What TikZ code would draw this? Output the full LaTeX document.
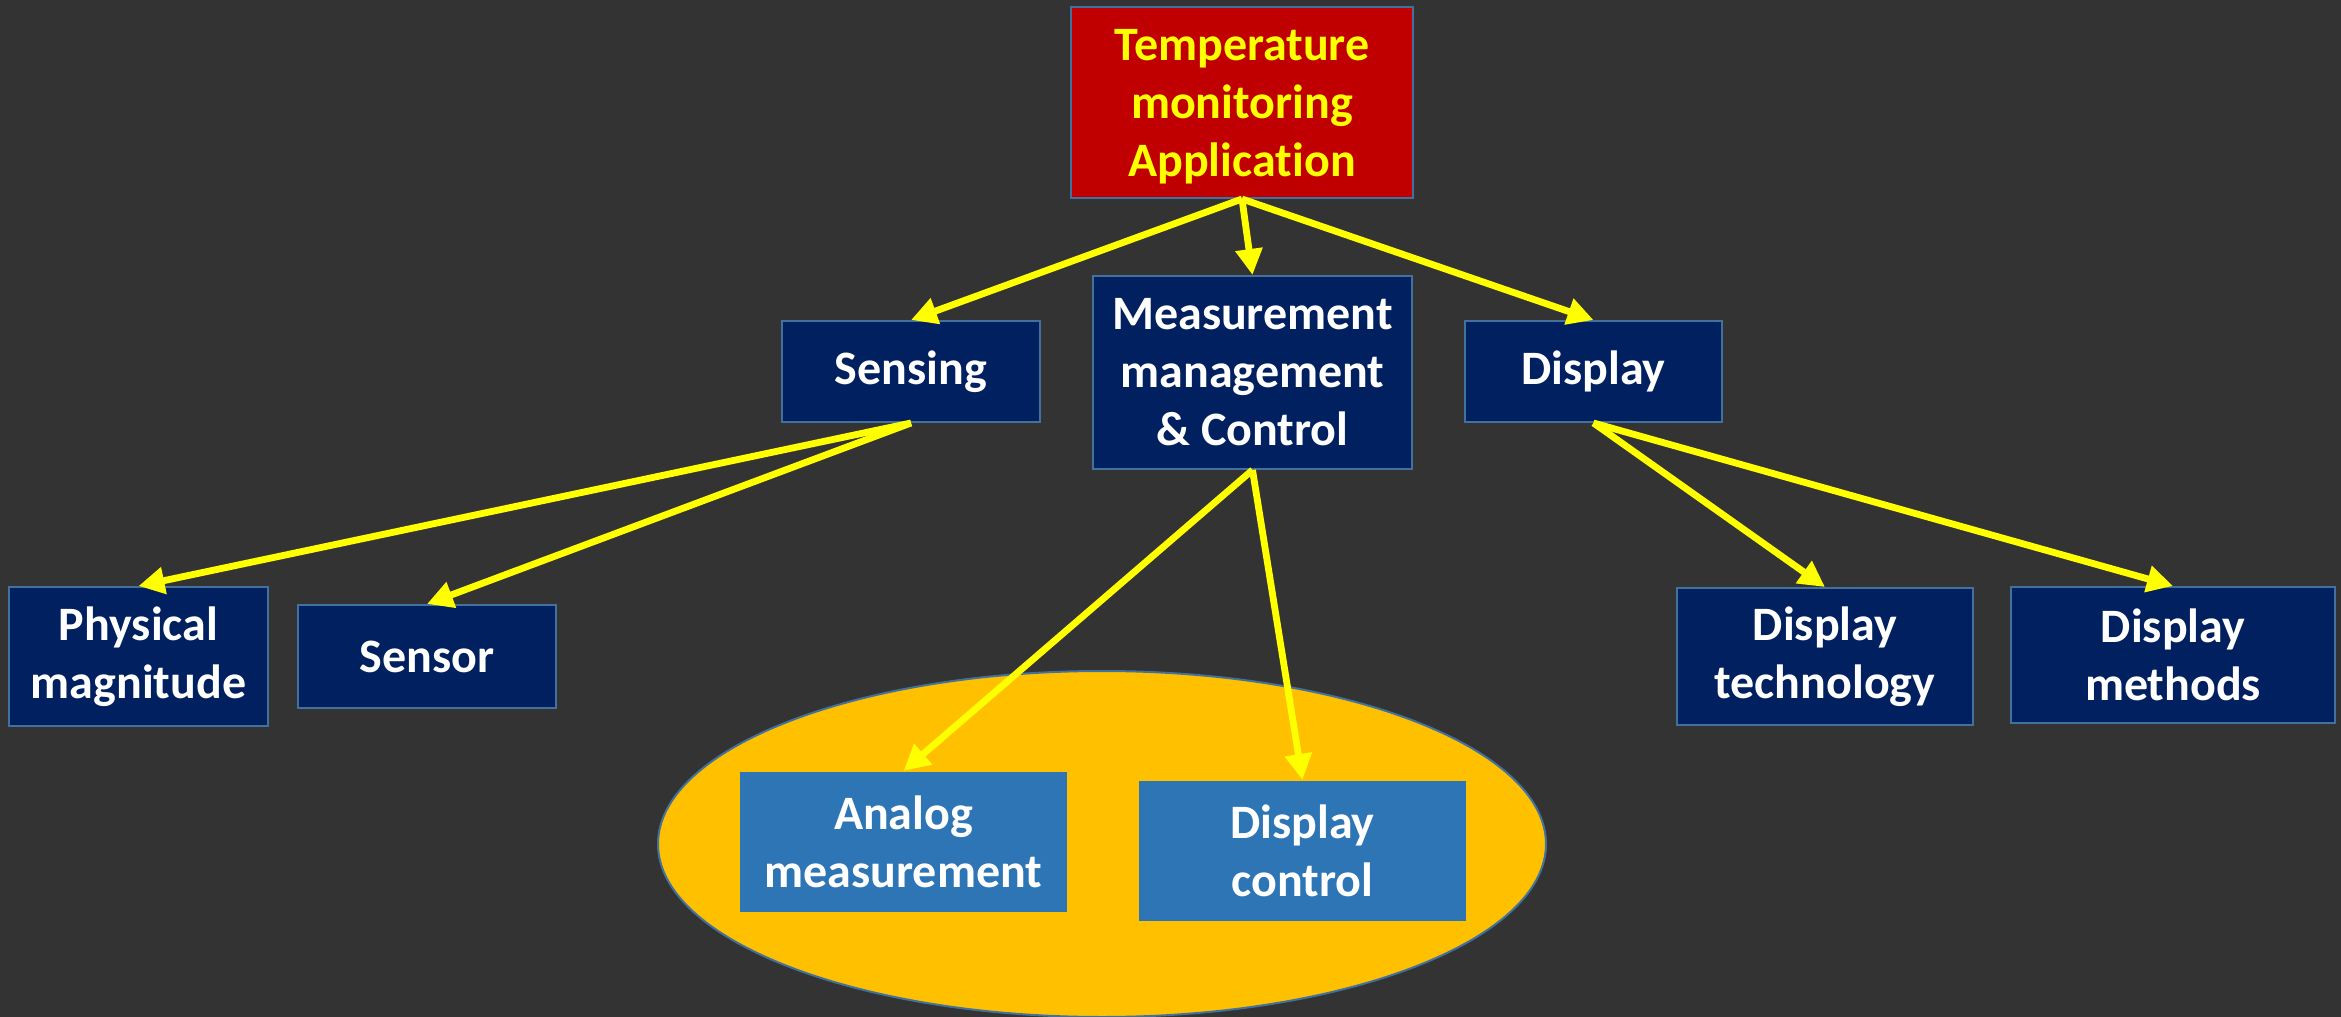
\documentclass[tikz,border=0pt]{standalone}
\usepackage{fontspec}
\setmainfont{Carlito}[Ligatures={NoCommon,NoRare,NoContextual},Contextuals=NoAlternate]
\usetikzlibrary{arrows.meta,shapes.geometric}
\definecolor{bgdark}{RGB}{51,51,51}
\definecolor{rootred}{RGB}{192,0,0}
\definecolor{navy}{RGB}{0,32,96}
\definecolor{midblue}{RGB}{46,117,182}
\definecolor{edgeblue}{RGB}{65,113,156}
\definecolor{amber}{RGB}{255,192,0}
\definecolor{linkyellow}{RGB}{255,255,0}
\tikzset{
  box/.style={rectangle, draw=edgeblue, line width=1pt, inner sep=0pt,
    align=center, text=white,
    font=\fontsize{24}{29}\selectfont\bfseries},
  rootbox/.style={box, fill=rootred, text=linkyellow},
  navybox/.style={box, fill=navy},
  innerbox/.style={box, draw=none, fill=midblue},
  conn/.style={draw=linkyellow, line width=3.4pt,
    -{Triangle[length=13pt,width=13pt]}},
}
\begin{document}
\begin{tikzpicture}[x=0.5pt,y=-0.5pt]
  % canvas
  \fill[bgdark] (0,0) rectangle (2341,1017);
  \useasboundingbox (0,0) rectangle (2341,1017);

  % grouping ellipse behind the two inner blocks
  \node[ellipse, draw=edgeblue, line width=1pt, fill=amber, inner sep=0pt,
        minimum width=444pt, minimum height=173pt] (group) at (1102,844) {};

  % root
  \node[rootbox, minimum width=171pt, minimum height=95.5pt] (root) at (1242,102.5) {};
  \node[box, draw=none, text=linkyellow] (roottext) at (1242,107)
    {Temperature\\monitoring\\Applica\kern0pt tion};

  % second level
  \node[navybox, minimum width=129pt, minimum height=50.5pt] (sensing) at (911,371.5) {Sensing};
  \node[navybox, minimum width=159.5pt, minimum height=96.5pt] (meas) at (1252.5,372.5)
    {Measurement\\management\\\& Control};
  \node[navybox, minimum width=128.5pt, minimum height=50.5pt] (display) at (1593.5,371.5) {Display};

  % third level
  \node[navybox, minimum width=129.5pt, minimum height=69.5pt] (phys) at (138.5,656.5)
    {Physical\\magnitude};
  \node[navybox, minimum width=129pt, minimum height=51.5pt] (sensor) at (427,656.5) {Sensor};
  \node[innerbox, minimum width=163.5pt, minimum height=70pt] (analog) at (903.5,842)
    {Analog\\measurement};
  \node[innerbox, minimum width=163.5pt, minimum height=70pt] (dctrl) at (1302.5,851)
    {Display\\control};
  \node[navybox, minimum width=148pt, minimum height=68.5pt] (dtech) at (1825,656.5)
    {Display\\technology};
  \node[navybox, minimum width=162pt, minimum height=68pt] (dmeth) at (2173,655)
    {Display\\methods};

  % connectors
  \draw[conn] (root.south) -- (sensing.north);
  \draw[conn] (root.south) -- (meas.north);
  \draw[conn] (root.south) -- (display.north);
  \draw[conn] (sensing.south) -- (phys.north);
  \draw[conn] (sensing.south) -- (sensor.north);
  \draw[conn] (meas.south) -- (analog.north);
  \draw[conn] (meas.south) -- (dctrl.north);
  \draw[conn] (display.south) -- (dtech.north);
  \draw[conn] (display.south) -- (dmeth.north);
\end{tikzpicture}
\end{document}
